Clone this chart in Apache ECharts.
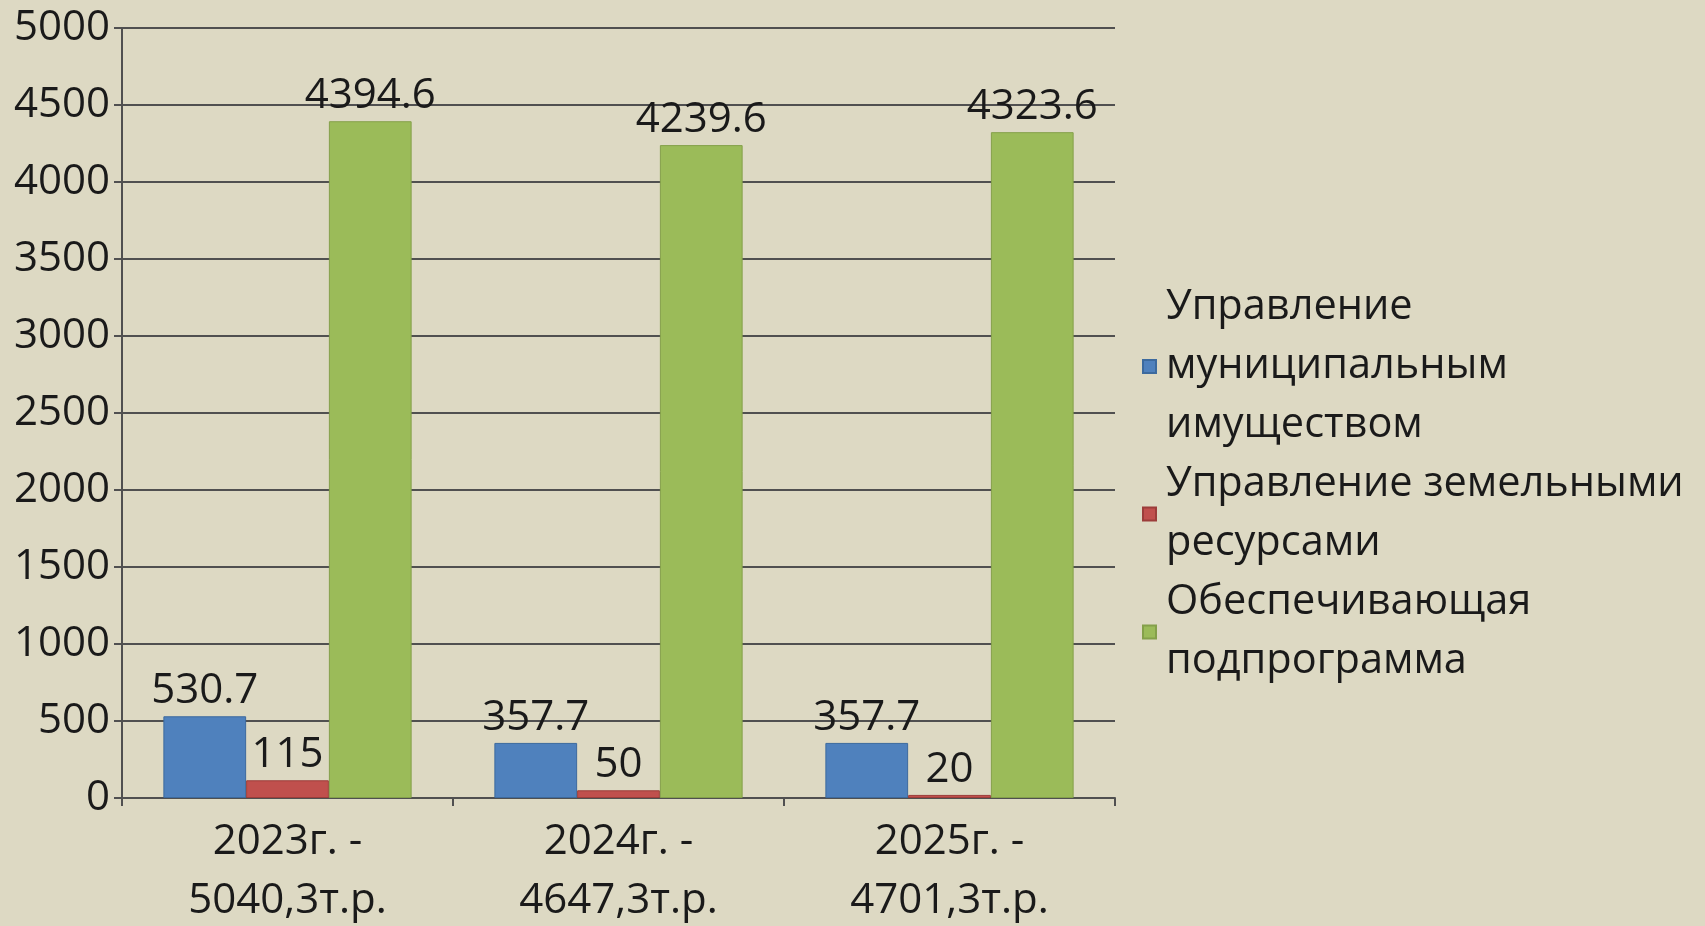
<!DOCTYPE html>
<html>
<head>
<meta charset="utf-8">
<script src="https://cdn.jsdelivr.net/npm/echarts@6/dist/echarts.min.js"></script>
<style>
  html, body { margin: 0; padding: 0; background: #DDD9C3; }
  #chart { width: 1705px; height: 926px; }
</style>
</head>
<body>
<div id="chart"></div>
<script>
// категории (годы + общий объём)
const categories = ['2023г. -\n5040,3т.р.', '2024г. -\n4647,3т.р.', '2025г. -\n4701,3т.р.']
const seriesNames = [
  'Управление\nмуниципальным\nимуществом',
  'Управление земельными\nресурсами',
  'Обеспечивающая\nподпрограмма',
]
const muniProperty = [530.7, 357.7, 357.7]
const landResources = [115, 50, 20]
const support = [4394.6, 4239.6, 4323.6]

const FONT = '"Open Sans", "Liberation Sans", sans-serif'
const TXT = '#1a1a1a'
const FS = 42

function barSeries(name, data, color, border) {
  return {
    name,
    type: 'bar',
    data,
    barGap: '0%',
    barCategoryGap: '25%',
    itemStyle: { color, borderColor: border, borderWidth: 1 },
    label: {
      show: true,
      position: 'top',
      distance: 4,
      color: TXT,
      fontFamily: FONT,
      fontSize: FS,
    },
  }
}

const chart = echarts.init(document.getElementById('chart'))
chart.setOption({
  backgroundColor: '#DDD9C3',
  animation: false,
  grid: { left: 122, right: 590, top: 28, bottom: 128, outerBoundsMode: 'none', containLabel: false },
  legend: {
    orient: 'vertical',
    left: 1137,
    top: 273,
    itemGap: 0,
    itemWidth: 13,
    itemHeight: 13,
    icon: 'rect',
    textStyle: { color: TXT, fontFamily: FONT, fontSize: 41.5, lineHeight: 59, padding: [0, 0, 0, 5] },
    data: seriesNames,
  },
  xAxis: {
    type: 'category',
    data: categories,
    axisLine: { lineStyle: { color: '#505050', width: 2 } },
    axisTick: { show: true, length: 8, lineStyle: { color: '#505050', width: 2 } },
    axisLabel: { color: TXT, fontFamily: FONT, fontSize: FS, lineHeight: 59, margin: 15 },
  },
  yAxis: {
    type: 'value',
    min: 0,
    max: 5000,
    interval: 500,
    axisLine: { show: true, lineStyle: { color: '#505050', width: 2 } },
    axisTick: { show: true, length: 8, lineStyle: { color: '#505050', width: 2 } },
    splitLine: { lineStyle: { color: '#505050', width: 2 } },
    axisLabel: { color: TXT, fontFamily: FONT, fontSize: FS, margin: 12, formatter: v => String(v) },
  },
  series: [
    barSeries(seriesNames[0], muniProperty, '#4F81BD', '#3c6a9e'),
    barSeries(seriesNames[1], landResources, '#C0504D', '#9c3d3a'),
    barSeries(seriesNames[2], support, '#9BBB59', '#84a04a'),
  ],
})
</script>
</body>
</html>
